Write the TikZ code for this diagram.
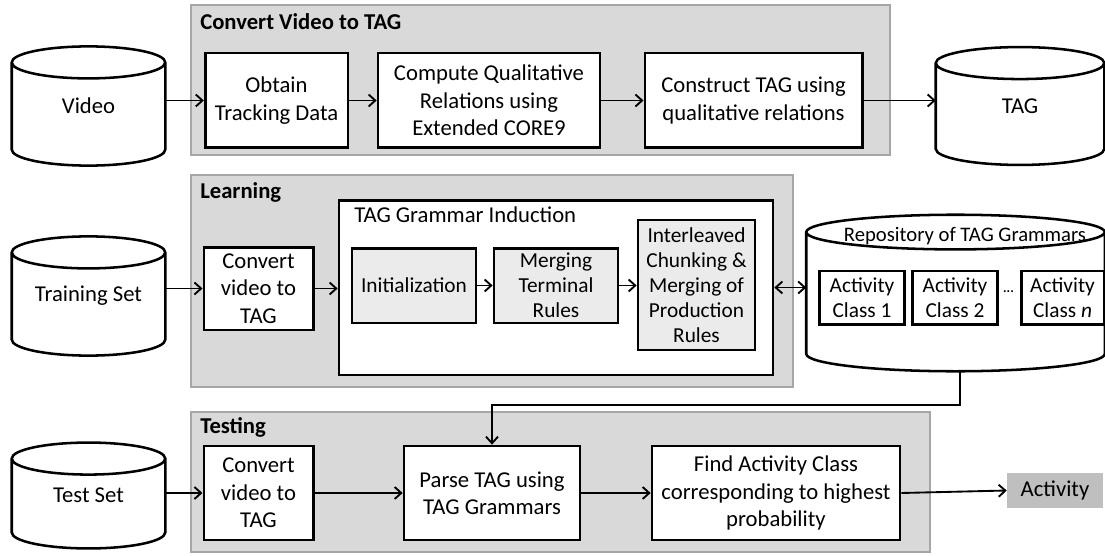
\documentclass[tikz,border=0pt]{standalone}
\usepackage{fontspec}
\setmainfont{Carlito}
\usetikzlibrary{calc,arrows.meta}
\tikzset{
  panel/.style={draw=black!35, line width=1.5pt, fill=black!15},
  box/.style={draw, line width=2pt, fill=white, align=center, inner sep=1pt, font=\fontsize{17}{20.5}\selectfont},
  subbox/.style={box, fill=black!8, font=\fontsize{16}{18.75}\selectfont},
  classbox/.style={box, minimum width=64pt, minimum height=40pt, font=\fontsize{16}{19}\selectfont},
  drumtext/.style={inner sep=0pt, align=center, font=\fontsize{17}{20.5}\selectfont},
  title/.style={anchor=west, inner sep=0pt, font=\fontsize{17}{20}\selectfont\bfseries},
  arr/.style={-{Straight Barb[length=5pt,width=9pt]}, line width=1.4pt},
  darr/.style={{Straight Barb[length=5pt,width=9pt]}-{Straight Barb[length=5pt,width=9pt]}, line width=1.4pt},
}
% cylinder outline round a named node, #1 = radius of the end ellipses
\newcommand\drum[2][12pt]{%
  \draw[line width=1.9pt] let \p1=(#2.north west), \p2=(#2.south east), \n1={(\x2-\x1)/2} in
    (\x1,\y1-#1) -- (\x1,\y2+#1) arc[start angle=180, end angle=360, x radius=\n1, y radius=#1]
    -- (\x2,\y1-#1) arc[start angle=0, end angle=360, x radius=\n1, y radius=#1];
}
\begin{document}
\begin{tikzpicture}[x=0.75pt, y=-0.75pt]
  \useasboundingbox (0,0) rectangle (1105,556);

  % convert video to TAG
  \draw[panel] (191,5) rectangle (890,155);
  \node[title] (ttl-conv) at (200,22) {Convert Video to TAG};
  \node[drumtext, minimum width=114.75pt, minimum height=89pt] (video) at (88.5,106) {Video};
  \drum{video}
  \node[box, minimum width=107pt, minimum height=71pt] (obtain) at (276.5,100.5) {Obtain\\Tracking Data};
  \node[box, minimum width=166.5pt, minimum height=71pt] (compute) at (489,100.5) {Compute Qualitative\\Relations using\\Extended CORE9};
  \node[box, minimum width=163pt, minimum height=71pt] (construct) at (753.5,100.5) {Construct TAG using\\qualitative relations};
  \node[drumtext, minimum width=126pt, minimum height=88pt] (tag) at (1020,106) {TAG};
  \drum{tag}

  \draw[arr] (video.east |- obtain.west) -- (obtain.west);
  \draw[arr] (obtain.east) -- (compute.west);
  \draw[arr] (compute.east) -- (construct.west);
  \draw[arr] (construct.east) -- (construct.east -| tag.west);

  % learning
  \draw[panel] (191,175) rectangle (793,387);
  \node[title] (ttl-learn) at (200,192) {Learning};
  \node[drumtext, minimum width=114.75pt, minimum height=89pt] (training) at (88.5,296) {Training Set};
  \drum{training}
  \node[box, minimum width=82pt, minimum height=62pt] (conv1) at (258.5,288.5) {Convert\\video to\\TAG};
  \node[box, minimum width=325.5pt, minimum height=131pt] (induct) at (556,287.5) {};
  \node[anchor=west, inner sep=0pt, font=\fontsize{17}{20}\selectfont] (ttl-induct) at (354,215) {TAG Grammar Induction};
  \node[subbox, minimum width=93pt, minimum height=56pt] (init) at (414,285.5) {Initialization};
  \node[subbox, minimum width=93pt, minimum height=56pt] (merge) at (556,285.5) {Merging\\Terminal\\Rules};
  \node[subbox, minimum width=87.75pt, minimum height=97.5pt] (inter) at (696.5,285) {Interleaved\\Chunking \&\\Merging of\\Production\\Rules};

  \node[minimum width=223.5pt, minimum height=117pt, inner sep=0pt] (repo) at (955.5,293) {};
  \drum[13pt]{repo}
  \node[inner sep=0pt, font=\fontsize{15.5}{18}\selectfont] (ttl-repo) at (965,236) {Repository of TAG Grammars};
  \node[classbox] (class1) at (862,297.5) {Activity\\Class 1};
  \node[classbox] (class2) at (955,297.5) {Activity\\Class 2};
  \node[inner sep=0pt, font=\fontsize{10}{10}\selectfont\bfseries] (dots) at (1008.5,292) {...};
  \node[classbox, minimum width=62pt] (classn) at (1062.5,297.5) {Activity\\Class \textit{n}};

  \draw[arr] (training.east |- conv1.west) -- (conv1.west);
  \draw[arr] (conv1.east) -- (conv1.east -| induct.west);
  \draw[arr] (init.east) -- (merge.west);
  \draw[arr] (merge.east) -- (merge.east -| inter.west);
  \draw[darr] (induct.east) -- (induct.east -| repo.west);

  % testing
  \draw[panel] (191,412) rectangle (930,552);
  \node[title] (ttl-test) at (200,427) {Testing};
  \node[drumtext, minimum width=114.75pt, minimum height=79pt] (test) at (88.5,495.5) {Test Set};
  \drum{test}
  \node[box, minimum width=82pt, minimum height=70.5pt] (conv2) at (258.5,493) {Convert\\video to\\TAG};
  \node[box, minimum width=132pt, minimum height=70.5pt] (parse) at (492,493) {Parse TAG using\\TAG Grammars};
  \node[box, minimum width=186pt, minimum height=70.5pt] (find) at (776,493) {Find Activity Class\\corresponding to highest\\probability};
  \node[fill=black!25, minimum width=72pt, minimum height=26pt, inner sep=0pt, font=\fontsize{17}{20}\selectfont] (activity) at (1055,490.5) {Activity};

  \draw[arr] ([xshift=3.5pt]repo.south) -- ([xshift=3.5pt]repo.south |- 0,405) -| (parse.north);
  \draw[arr] (test.east |- conv2.west) -- (conv2.west);
  \draw[arr] (conv2.east) -- (parse.west);
  \draw[arr] (parse.east) -- (find.west);
  \draw[arr] (find.east) -- (activity.west);
\end{tikzpicture}
\end{document}
